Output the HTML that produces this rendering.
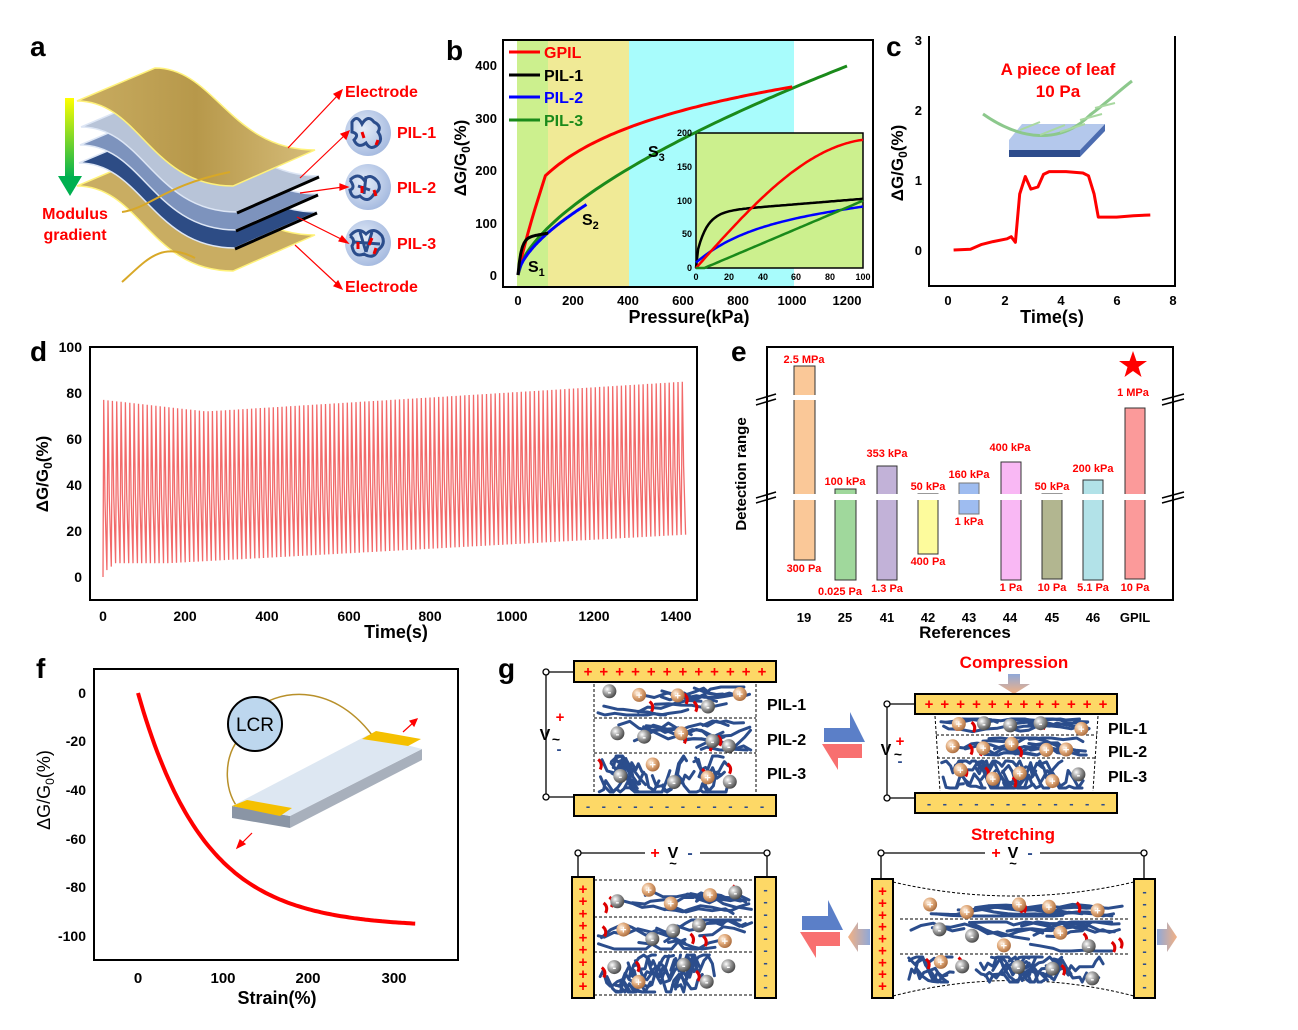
<!DOCTYPE html>
<html><head><meta charset="utf-8"><style>
html,body{margin:0;padding:0;background:#fff}
svg{display:block;font-family:"Liberation Sans",Arial,sans-serif}
.t{font-weight:bold}
.ti{font-weight:bold;font-size:18px}
.pl{font-weight:bold;font-size:28px}
.r{fill:#f00;font-weight:bold}
</style></head><body>
<svg id="s" width="1298" height="1030" viewBox="0 0 1298 1030" xmlns="http://www.w3.org/2000/svg">
<defs>
<linearGradient id="gold" x1="0" y1="0" x2="1" y2="0"><stop offset="0" stop-color="#c9ad62"/><stop offset=".5" stop-color="#b7984a"/><stop offset="1" stop-color="#d6bd7a"/></linearGradient>
<linearGradient id="mg" x1="0" y1="0" x2="0" y2="1"><stop offset="0" stop-color="#ffff00"/><stop offset="1" stop-color="#00b050"/></linearGradient>
<radialGradient id="cb" cx=".4" cy=".4" r=".7"><stop offset="0" stop-color="#e4ecf8"/><stop offset="1" stop-color="#9fb5dd"/></radialGradient>
<radialGradient id="gb" cx=".35" cy=".35" r=".7"><stop offset="0" stop-color="#fff"/><stop offset=".5" stop-color="#999"/><stop offset="1" stop-color="#444"/></radialGradient>
<radialGradient id="ob" cx=".35" cy=".35" r=".7"><stop offset="0" stop-color="#fff3e6"/><stop offset=".5" stop-color="#e0a878"/><stop offset="1" stop-color="#a86a3c"/></radialGradient>
<linearGradient id="ca" x1="0" y1="0" x2="0" y2="1"><stop offset="0" stop-color="#8fa8d8"/><stop offset="1" stop-color="#f4b183"/></linearGradient>
<linearGradient id="ha" x1="0" y1="0" x2="1" y2="0"><stop offset="0" stop-color="#f4b183"/><stop offset="1" stop-color="#8fa8d8"/></linearGradient>
<linearGradient id="ha2" x1="0" y1="0" x2="1" y2="0"><stop offset="0" stop-color="#8fa8d8"/><stop offset="1" stop-color="#f4b183"/></linearGradient>
</defs>

<text x="30" y="56" class="pl">a</text>
<text x="446" y="60" class="pl">b</text>
<text x="886" y="56" class="pl">c</text>
<text x="30" y="361" class="pl">d</text>
<text x="731" y="361" class="pl">e</text>
<text x="36" y="678" class="pl">f</text>
<text x="498" y="678" class="pl">g</text>

<!-- ===== panel a ===== -->
<rect x="65" y="98" width="9" height="80" fill="url(#mg)"/>
<polygon points="58,176 82,176 70,196" fill="#00b050"/>
<text x="75" y="219" text-anchor="middle" class="r" font-size="16">Modulus</text>
<text x="75" y="240" text-anchor="middle" class="r" font-size="16">gradient</text>
<g id="sheets"></g>
<path d="M122,282 C145,262 160,240 195,258" stroke="#d8a827" stroke-width="2" fill="none"/>
<path d="M122,212 C150,208 165,185 230,172" stroke="#d8a827" stroke-width="2" fill="none"/>
<circle cx="368" cy="133" r="23" fill="url(#cb)"/>
<circle cx="368" cy="187" r="23" fill="url(#cb)"/>
<circle cx="368" cy="243" r="23" fill="url(#cb)" />
<path d="M352,122 q5,-8 10,2 q6,-10 12,-2 q8,4 4,10 q6,8 -2,14 q-6,4 -10,-3 q-8,6 -12,-3 q6,-6 -2,-8 z" stroke="#2b4d8c" stroke-width="3" fill="none"/>
<path d="M350,180 q8,-8 14,0 q6,-8 14,2 q4,8 -4,12 q-6,10 -14,2 q-8,4 -10,-6 q6,-2 0,-10 M358,186 l12,4 M366,176 l-2,18" stroke="#2b4d8c" stroke-width="3" fill="none"/>
<path d="M350,236 q8,-10 16,-2 q8,-8 16,2 q4,8 -4,14 q-4,10 -14,4 q-10,4 -12,-8 q4,-6 -2,-10 M354,242 l26,2 M360,232 l6,20 M372,232 l-6,20" stroke="#2b4d8c" stroke-width="3" fill="none"/>
<path d="M362,132 l2,6 M378,140 l-2,5 M362,186 l0,7 M374,190 l2,6 M358,242 l0,7 M372,238 l-3,7 M376,248 l-2,6" stroke="#e00" stroke-width="3"/>
<g stroke="#f00" stroke-width="1.2" fill="#f00">
<line x1="288" y1="148" x2="338" y2="95"/><polygon points="342,90 334,94 339,99"/>
<line x1="300" y1="178" x2="345" y2="135"/><polygon points="349,131 341,134 346,139"/>
<line x1="300" y1="193" x2="343" y2="187"/><polygon points="348,187 340,184 340,190"/>
<line x1="297" y1="217" x2="343" y2="240"/><polygon points="348,243 339,241 342,236"/>
<line x1="295" y1="245" x2="338" y2="285"/><polygon points="342,289 334,286 338,281"/>
</g>
<text x="345" y="97" class="r" font-size="16">Electrode</text>
<text x="397" y="138" class="r" font-size="16">PIL-1</text>
<text x="397" y="193" class="r" font-size="16">PIL-2</text>
<text x="397" y="249" class="r" font-size="16">PIL-3</text>
<text x="345" y="292" class="r" font-size="16">Electrode</text>

<!-- ===== panel b ===== -->
<rect x="517" y="40" width="31" height="247" fill="#ccf08e"/>
<rect x="548" y="40" width="81" height="247" fill="#f0ea96"/>
<rect x="629" y="40" width="165" height="247" fill="#a8fcfc"/>
<rect x="696" y="133" width="167" height="135" fill="#ccf08e" stroke="#000" stroke-width="1.5"/>
<rect x="503" y="40" width="370" height="247" fill="none" stroke="#000" stroke-width="2"/>
<g id="bplot"></g>
<g class="t" text-anchor="end" font-size="13">
<text x="497" y="280">0</text><text x="497" y="228">100</text><text x="497" y="175">200</text><text x="497" y="123">300</text><text x="497" y="70">400</text>
</g>
<g class="t" text-anchor="middle" font-size="13">
<text x="518" y="305">0</text><text x="573" y="305">200</text><text x="628" y="305">400</text><text x="683" y="305">600</text><text x="738" y="305">800</text><text x="792" y="305">1000</text><text x="847" y="305">1200</text>
</g>
<text x="689" y="323" text-anchor="middle" class="ti">Pressure(kPa)</text>
<text transform="translate(466,158) rotate(-90)" text-anchor="middle" class="t" font-size="17">ΔG/G<tspan font-size="12" dy="4">0</tspan><tspan dy="-4">(%)</tspan></text>
<g font-size="16" font-weight="bold">
<line x1="509" y1="52" x2="540" y2="52" stroke="#f00" stroke-width="3"/><text x="544" y="58" fill="#f00">GPIL</text>
<line x1="509" y1="75" x2="540" y2="75" stroke="#000" stroke-width="3"/><text x="544" y="81">PIL-1</text>
<line x1="509" y1="97" x2="540" y2="97" stroke="#00f" stroke-width="3"/><text x="544" y="103" fill="#00f">PIL-2</text>
<line x1="509" y1="120" x2="540" y2="120" stroke="#1a8a1a" stroke-width="3"/><text x="544" y="126" fill="#1a8a1a">PIL-3</text>
<text x="528" y="272">S<tspan font-size="11" dy="4">1</tspan></text>
<text x="582" y="225">S<tspan font-size="11" dy="4">2</tspan></text>
<text x="648" y="157">S<tspan font-size="11" dy="4">3</tspan></text>
</g>
<g font-size="9" font-weight="bold" text-anchor="end">
<text x="692" y="136">200</text><text x="692" y="170">150</text><text x="692" y="204">100</text><text x="692" y="237">50</text><text x="692" y="271">0</text>
</g>
<g font-size="9" font-weight="bold" text-anchor="middle">
<text x="696" y="280">0</text><text x="729" y="280">20</text><text x="763" y="280">40</text><text x="796" y="280">60</text><text x="830" y="280">80</text><text x="863" y="280">100</text>
</g>

<!-- ===== panel c ===== -->
<path d="M929,36 L929,286 L1175,286 L1175,36" fill="none" stroke="#000" stroke-width="2"/>
<g class="t" text-anchor="end" font-size="13">
<text x="922" y="255">0</text><text x="922" y="185">1</text><text x="922" y="115">2</text><text x="922" y="45">3</text>
</g>
<g class="t" text-anchor="middle" font-size="13">
<text x="948" y="305">0</text><text x="1005" y="305">2</text><text x="1061" y="305">4</text><text x="1117" y="305">6</text><text x="1173" y="305">8</text>
</g>
<text x="1052" y="323" text-anchor="middle" class="ti" font-size="17">Time(s)</text>
<text transform="translate(903,163) rotate(-90)" text-anchor="middle" class="t" font-size="17">ΔG/G<tspan font-size="12" dy="4">0</tspan><tspan dy="-4">(%)</tspan></text>
<text x="1058" y="75" text-anchor="middle" class="r" font-size="17">A piece of leaf</text>
<text x="1058" y="97" text-anchor="middle" class="r" font-size="17">10 Pa</text>
<polygon points="1009,150 1080,150 1080,157 1009,157" fill="#2d4c8c"/>
<polygon points="1009,140 1022,124 1105,124 1080,150 1009,150" fill="#b4c8ec"/>
<polygon points="1080,150 1105,124 1105,131 1080,157" fill="#4c6cb0"/>
<path d="M983,114 C1020,140 1060,145 1090,115 C1110,100 1120,90 1132,81" stroke="#8cc88c" stroke-width="3" fill="none"/>
<path d="M1020,130 l20,-8 M1040,135 l25,-10 M1060,132 l25,-8 M1080,120 l22,-6 M1095,108 l20,-5" stroke="#a8d8a0" stroke-width="2"/>
<polyline id="cline" fill="none" stroke="#f00" stroke-width="3" stroke-linejoin="round"/>

<!-- ===== panel d ===== -->
<rect x="90" y="347" width="607" height="253" fill="none" stroke="#000" stroke-width="2"/>
<polyline id="dline" fill="none" stroke="#f26a6a" stroke-width="1.3"/>
<g class="t" text-anchor="end" font-size="14">
<text x="82" y="582">0</text><text x="82" y="536">20</text><text x="82" y="490">40</text><text x="82" y="444">60</text><text x="82" y="398">80</text><text x="82" y="352">100</text>
</g>
<g class="t" text-anchor="middle" font-size="14">
<text x="103" y="621">0</text><text x="185" y="621">200</text><text x="267" y="621">400</text><text x="349" y="621">600</text><text x="430" y="621">800</text><text x="512" y="621">1000</text><text x="594" y="621">1200</text><text x="676" y="621">1400</text>
</g>
<text x="396" y="638" text-anchor="middle" class="ti" font-size="17">Time(s)</text>
<text transform="translate(48,474) rotate(-90)" text-anchor="middle" class="t" font-size="17">ΔG/G<tspan font-size="12" dy="4">0</tspan><tspan dy="-4">(%)</tspan></text>

<!-- ===== panel e ===== -->
<rect x="767" y="347" width="406" height="253" fill="none" stroke="#000" stroke-width="2"/>
<g stroke="#333" stroke-width="1">
<rect x="794" y="366" width="21" height="194" fill="#fac898"/>
<rect x="835" y="489" width="21" height="91" fill="#a0d89c"/>
<rect x="877" y="466" width="20" height="114" fill="#c2b2d8"/>
<rect x="918" y="494" width="20" height="60" fill="#fdfb9c"/>
<rect x="959" y="483" width="20" height="31" fill="#9ebcf0" stroke="#777"/>
<rect x="1001" y="462" width="20" height="118" fill="#f9b8f4"/>
<rect x="1042" y="494" width="20" height="85" fill="#b2b690"/>
<rect x="1083" y="480" width="20" height="100" fill="#b2e2e8"/>
<rect x="1125" y="408" width="20" height="171" fill="#fb9a9a"/>
</g>
<rect x="760" y="395" width="420" height="5" fill="#fff"/>
<rect x="760" y="494" width="420" height="6" fill="#fff"/>
<g stroke="#000" stroke-width="1.5">
<line x1="756" y1="400" x2="776" y2="394"/><line x1="756" y1="405" x2="776" y2="399"/>
<line x1="756" y1="498" x2="776" y2="492"/><line x1="756" y1="503" x2="776" y2="497"/>
<line x1="1162" y1="400" x2="1184" y2="394"/><line x1="1162" y1="405" x2="1184" y2="399"/>
<line x1="1162" y1="498" x2="1184" y2="492"/><line x1="1162" y1="503" x2="1184" y2="497"/>
</g>
<line x1="767" y1="600" x2="767" y2="347" stroke="#000" stroke-width="2"/>
<line x1="1173" y1="600" x2="1173" y2="347" stroke="#000" stroke-width="2"/>
<g class="r" font-size="11" text-anchor="middle">
<text x="804" y="363">2.5 MPa</text><text x="804" y="572">300 Pa</text>
<text x="845" y="485">100 kPa</text><text x="840" y="595">0.025 Pa</text>
<text x="887" y="457">353 kPa</text><text x="887" y="592">1.3 Pa</text>
<text x="928" y="490">50 kPa</text><text x="928" y="565">400 Pa</text>
<text x="969" y="478">160 kPa</text><text x="969" y="525">1 kPa</text>
<text x="1010" y="451">400 kPa</text><text x="1011" y="591">1 Pa</text>
<text x="1052" y="490">50 kPa</text><text x="1052" y="591">10 Pa</text>
<text x="1093" y="472">200 kPa</text><text x="1093" y="591">5.1 Pa</text>
<text x="1133" y="396">1 MPa</text><text x="1135" y="591">10 Pa</text>
</g>
<polygon points="1133,351 1136.5,361 1147,361 1138.5,367 1141.5,377 1133,371 1124.5,377 1127.5,367 1119,361 1129.5,361" fill="#f00"/>
<g class="t" text-anchor="middle" font-size="13">
<text x="804" y="622">19</text><text x="845" y="622">25</text><text x="887" y="622">41</text><text x="928" y="622">42</text><text x="969" y="622">43</text><text x="1010" y="622">44</text><text x="1052" y="622">45</text><text x="1093" y="622">46</text><text x="1135" y="622">GPIL</text>
</g>
<text x="965" y="638" text-anchor="middle" class="t" font-size="17">References</text>
<text transform="translate(746,474) rotate(-90)" text-anchor="middle" class="t" font-size="15">Detection range</text>

<!-- ===== panel f ===== -->
<rect x="94" y="669" width="364" height="291" fill="none" stroke="#000" stroke-width="2"/>
<g class="t" text-anchor="end" font-size="14">
<text x="86" y="698">0</text><text x="86" y="746">-20</text><text x="86" y="795">-40</text><text x="86" y="844">-60</text><text x="86" y="892">-80</text><text x="86" y="941">-100</text>
</g>
<g class="t" text-anchor="middle" font-size="15">
<text x="138" y="983">0</text><text x="223" y="983">100</text><text x="308" y="983">200</text><text x="394" y="983">300</text>
</g>
<text x="277" y="1004" text-anchor="middle" class="ti" font-size="19">Strain(%)</text>
<text transform="translate(50,790) rotate(-90)" text-anchor="middle" font-size="18">ΔG/G<tspan font-size="12" dy="4">0</tspan><tspan dy="-4">(%)</tspan></text>
<path id="fline" fill="none" stroke="#f00" stroke-width="4"/>
<path d="M252,712 C275,690 330,680 372,735" stroke="#b8902a" stroke-width="1.5" fill="none"/>
<path d="M238,740 C222,760 225,795 240,810" stroke="#b8902a" stroke-width="1.5" fill="none"/>
<circle cx="255" cy="724" r="27" fill="#bdd7ee" stroke="#000" stroke-width="2"/>
<text x="255" y="731" text-anchor="middle" font-size="19">LCR</text>
<polygon points="232,806 232,818 290,828 290,816" fill="#8a95a5"/>
<polygon points="290,816 290,828 422,760 422,749" fill="#a8b0bc"/>
<polygon points="232,806 290,816 422,749 368,735" fill="#dde7f2"/>
<polygon points="232,806 247,800 292,808 280,816" fill="#f5c000"/>
<polygon points="362,739 376,731 421,739 408,746" fill="#f5c000"/>
<g stroke="#f00" fill="#f00" stroke-width="1.2"><line x1="252" y1="833" x2="240" y2="845"/><polygon points="237,848 240,840 245,844"/><line x1="403" y1="732" x2="414" y2="722"/><polygon points="417,719 410,721 414,726"/></g>

<!-- ===== panel g ===== -->
<g id="gg"></g>
<g class="t" font-size="16">
<text x="767" y="710">PIL-1</text><text x="767" y="745">PIL-2</text><text x="767" y="779">PIL-3</text>
<text x="1108" y="734">PIL-1</text><text x="1108" y="757">PIL-2</text><text x="1108" y="782">PIL-3</text>
</g>
<text x="1014" y="668" text-anchor="middle" class="r" font-size="17">Compression</text>
<text x="1013" y="840" text-anchor="middle" class="r" font-size="17">Stretching</text>
</svg>
<script>
(function(){
var S=document.getElementById('s'),NS='http://www.w3.org/2000/svg';
function el(t,a,p){var e=document.createElementNS(NS,t);for(var k in a)e.setAttribute(k,a[k]);(p||S).appendChild(e);return e;}
var seed=7;function R(){seed=(seed*16807)%2147483647;return (seed-1)/2147483646;}
var sh=document.getElementById('sheets');
function sheet(dx,dy,fill,edge){
 var p='M'+(77+dx)+','+(101+dy)+' L'+(155+dx)+','+(68+dy)+' C'+(215+dx)+','+(68+dy)+' '+(230+dx)+','+(150+dy)+' '+(315+dx)+','+(150+dy)+' L'+(233+dx)+','+(186+dy)+' C'+(150+dx)+','+(186+dy)+' '+(140+dx)+','+(101+dy)+' '+(77+dx)+','+(101+dy)+'Z';
 el('path',{d:p,fill:fill,stroke:edge=='#000'?'#dde6f5':edge,'stroke-width':1.5},sh);
 if(edge=='#000') el('line',{x1:233+dx,y1:187+dy,x2:315+dx,y2:151+dy,stroke:'#000','stroke-width':3},sh);
}
sheet(0,85,'#c9ad62','#fff27a');
sheet(2,62,'#2d4c85','#000');
sheet(3,44,'#7d93bd','#000');
sheet(4,26,'#b8c4d8','#000');
sheet(0,0,'url(#gold)','#fff27a');
var B=document.getElementById('bplot');
function bx(p){return 518+p*0.2742} function by(v){return 275-v*0.5225}
function curve(f,p0,p1,col,X,Y,w){var s='';for(var i=0;i<=80;i++){var p=p0+(p1-p0)*i/80;s+=(i?'L':'M')+X(p).toFixed(1)+','+Y(f(p)).toFixed(1);}el('path',{d:s,fill:'none',stroke:col,'stroke-width':w||3},B);}
function G(p){ if(p<=100){var t=p/100;return 190*Math.pow(t,0.85);} return 190+170*Math.log(1+(p-100)/200)/Math.log(1+900/200);}
function P1(p){return 90*(1-Math.exp(-p/12))*0.78+ p*0.09;}
function P2(p){return 135*Math.pow(p/250,0.62);}
function P3(p){return 400*Math.pow(p/1200,0.62);}
curve(P3,0,1200,'#1a8a1a',bx,by);
curve(G,0,1000,'#f00',bx,by);
curve(P2,0,250,'#00f',bx,by);
curve(P1,0,110,'#000',bx,by);
function ix(p){return 696+p*1.67} function iy(v){return 268-v*0.675}
curve(function(p){return 90*(1-Math.exp(-p/6))*0.75+p*0.2+15*Math.min(1,p/1)},0,100,'#000',ix,iy,2.5);
curve(function(p){return 8+ 55*(1-Math.exp(-p/30))+p*0.3},0,100,'#00f',ix,iy,2.5);
curve(function(p){return 190*Math.sin(p/100*1.45)/Math.sin(1.45)},0,100,'#f00',ix,iy,2.5);
curve(function(p){return Math.max(0,(p-5)*1.05)},0,100,'#1a8a1a',ix,iy,2.5);
var cp=[[0.2,0],[0.8,0.01],[1.2,0.08],[1.6,0.12],[2.1,0.16],[2.25,0.19],[2.4,0.11],[2.55,0.8],[2.75,1.05],[2.95,0.87],[3.2,0.9],[3.4,1.08],[3.6,1.12],[4.2,1.12],[4.8,1.1],[5.0,1.06],[5.2,0.8],[5.35,0.47],[6,0.47],[6.6,0.49],[7.2,0.5]];
document.getElementById('cline').setAttribute('points',cp.map(function(a){return (948+a[0]*28.1).toFixed(1)+','+(250-a[1]*70).toFixed(1)}).join(' '));
var pts=['103,577'],N=134,x0=103,x1=686,w=(x1-x0)/N;
for(var i=0;i<N;i++){var f=i/N,t=f*1420;var pk=t<250?77-5*t/250:72+13*(t-250)/1170;var tr=6+12.5*Math.max(0,(t-150)/1270);if(i<3)tr=3+i*1.5;
 var xa=x0+i*w;pts.push((xa+w*0.15).toFixed(1)+','+(577-pk*2.3).toFixed(1));pts.push((xa+w*0.45).toFixed(1)+','+(577-(tr+30)*2.3).toFixed(1));pts.push((xa+w*0.9).toFixed(1)+','+(577-tr*2.3).toFixed(1));}
document.getElementById('dline').setAttribute('points',pts.join(' '));
var s='';for(var i=0;i<=100;i++){var e=325*i/100;var v=-96*(1-Math.exp(-e/78));s+=(i?'L':'M')+(138+e*0.853).toFixed(1)+','+(693-v*2.44).toFixed(1);}
document.getElementById('fline').setAttribute('d',s);
var g=document.getElementById('gg');
function rect(x,y,w,h,sgn,vert){el('rect',{x:x,y:y,width:w,height:h,fill:'#fdd866',stroke:'#000','stroke-width':2},g);
 var n=vert?9:12;for(var i=0;i<n;i++){var cx=vert?x+w/2:x+14+i*(w-28)/(n-1),cy=vert?y+12+i*(h-24)/(n-1):y+h/2;
  var t=el('text',{x:cx,y:cy+5,'text-anchor':'middle','font-size':sgn=='+'?15:13,'font-weight':'bold',fill:sgn=='+'?'#f00':'#2d4c8c'},g);t.textContent=sgn;}}
function wire(d){el('path',{d:d,fill:'none',stroke:'#000','stroke-width':1.3},g);}
function dot(x,y){el('circle',{cx:x,cy:y,r:3,fill:'#fff',stroke:'#000','stroke-width':1.3},g);}
function dash(d){el('path',{d:d,fill:'none',stroke:'#000','stroke-width':1,'stroke-dasharray':'3,2'},g);}
function chains(x0,x1,y0,y1,n,amp,step){for(var k=0;k<n;k++){var x=x0+R()*(x1-x0)*0.7,y=y0+R()*(y1-y0),d='M'+x.toFixed(1)+','+y.toFixed(1);var L=5+Math.floor(R()*7);
 for(var j=0;j<L;j++){x+=step*(0.5+R()*0.9);y+=(R()-0.5)*amp*2;y=Math.max(y0,Math.min(y1,y));if(x>x1)break;d+=' L'+x.toFixed(1)+','+y.toFixed(1);}
 el('path',{d:d,fill:'none',stroke:'#2b4d8c','stroke-width':3,'stroke-linejoin':'round','stroke-linecap':'round'},g);}
 for(var k=0;k<3;k++){var x=x0+R()*(x1-x0),y=y0+R()*(y1-y0-8);el('path',{d:'M'+x.toFixed(1)+','+y.toFixed(1)+' q5,4 2,10',fill:'none',stroke:'#d00','stroke-width':3},g);}}
function balls(x0,x1,y0,y1,n,r){for(var k=0;k<n;k++){var x=x0+(k+0.2+R()*0.6)*(x1-x0)/n,y=y0+R()*(y1-y0),pl=R()<0.5;
 el('circle',{cx:x.toFixed(1),cy:y.toFixed(1),r:r,fill:pl?'url(#ob)':'url(#gb)'},g);var t=el('text',{x:x.toFixed(1),y:(y+4).toFixed(1),'text-anchor':'middle','font-size':11,'font-weight':'bold',fill:'#fff'},g);t.textContent=pl?'+':'-';}}
function layers(x0,x1,ys,amps,steps,cn){for(var i=0;i<3;i++){chains(x0,x1,ys[i]+3,ys[i+1]-3,cn[i],amps[i],steps[i]);}for(var i=0;i<3;i++){balls(x0+4,x1-4,ys[i]+6,ys[i+1]-6,5,7);}}
rect(574,661,202,21,'+');rect(574,795,202,21,'-');
dash('M594,684 L594,795 M756,684 L756,795 M594,718 L756,718 M594,753 L756,753');
layers(598,752,[684,718,753,795],[5,7,14],[10,10,4],[9,10,20]);
wire('M546,672 L574,672 M546,672 L546,797 L574,797');dot(546,672);dot(546,797);
el('polygon',{points:'1008,674 1020,674 1020,684 1030,684 1014,694 998,684 1008,684',fill:'url(#ca)'},g);
rect(915,694,202,20,'+');rect(915,793,202,20,'-');
dash('M935,716 L940,791 M1098,716 L1093,791 M936,735 L1097,735 M937,758 L1095,758');
layers(940,1093,[716,735,758,791],[3,5,12],[10,10,4],[9,10,20]);
wire('M887,704 L915,704 M887,704 L887,798 L915,798');dot(887,704);dot(887,798);
rect(572,877,22,121,'+',1);rect(755,877,21,121,'-',1);
dash('M594,880 L755,880 M594,995 L755,995 M594,917 L755,917 M594,952 L755,952');
layers(598,752,[880,917,952,995],[5,8,14],[10,10,4],[9,10,20]);
wire('M578,853 L645,853 M700,853 L767,853 M578,853 L578,877 M767,853 L767,877');dot(578,853);dot(767,853);
rect(872,879,21,119,'+',1);rect(1134,879,21,119,'-',1);
dash('M893,882 Q1013,910 1134,882 M893,996 Q1013,965 1134,996 M900,919 L1130,919 M900,954 L1130,954');
layers(905,1125,[898,919,954,985],[3,6,11],[13,12,5],[10,10,20]);
wire('M881,853 L985,853 M1040,853 L1144,853 M881,853 L881,879 M1144,853 L1144,879');dot(881,853);dot(1144,853);
function T(x,y,s,c,fs){var t=el('text',{x:x,y:y,'font-size':fs||16,'font-weight':'bold',fill:c||'#000','text-anchor':'middle'},g);t.textContent=s;}
T(545,740,'V');T(556,744,'~','#000',14);T(560,722,'+','#f00',15);T(559,754,'-','#2d4c8c',15);
T(886,755,'V');T(898,759,'~','#000',14);T(900,746,'+','#f00',15);T(900,766,'-','#2d4c8c',15);
T(655,858,'+','#f00');T(673,858,'V');T(673,868,'~','#000',13);T(690,858,'-','#2d4c8c');
T(996,858,'+','#f00');T(1013,858,'V');T(1013,868,'~','#000',13);T(1030,858,'-','#2d4c8c');
function pair(x,y){
 el('polygon',{points:(x+2)+','+(y+16)+' '+(x+28)+','+(y+16)+' '+(x+28)+','+y+' '+(x+43)+','+(y+30)+' '+(x+2)+','+(y+30),fill:'#5b7fc8'},g);
 el('polygon',{points:(x+40)+','+(y+32)+' '+x+','+(y+32)+' '+(x+16)+','+(y+58)+' '+(x+16)+','+(y+46)+' '+(x+40)+','+(y+46),fill:'#f87070'},g);}
pair(822,712);pair(800,900);
el('polygon',{points:'870,929 858,929 858,922 848,937 858,952 858,945 870,945',fill:'url(#ha)'},g);
el('polygon',{points:'1157,929 1167,929 1167,922 1177,937 1167,952 1167,945 1157,945',fill:'url(#ha2)'},g);
})();
</script>
</body></html>
